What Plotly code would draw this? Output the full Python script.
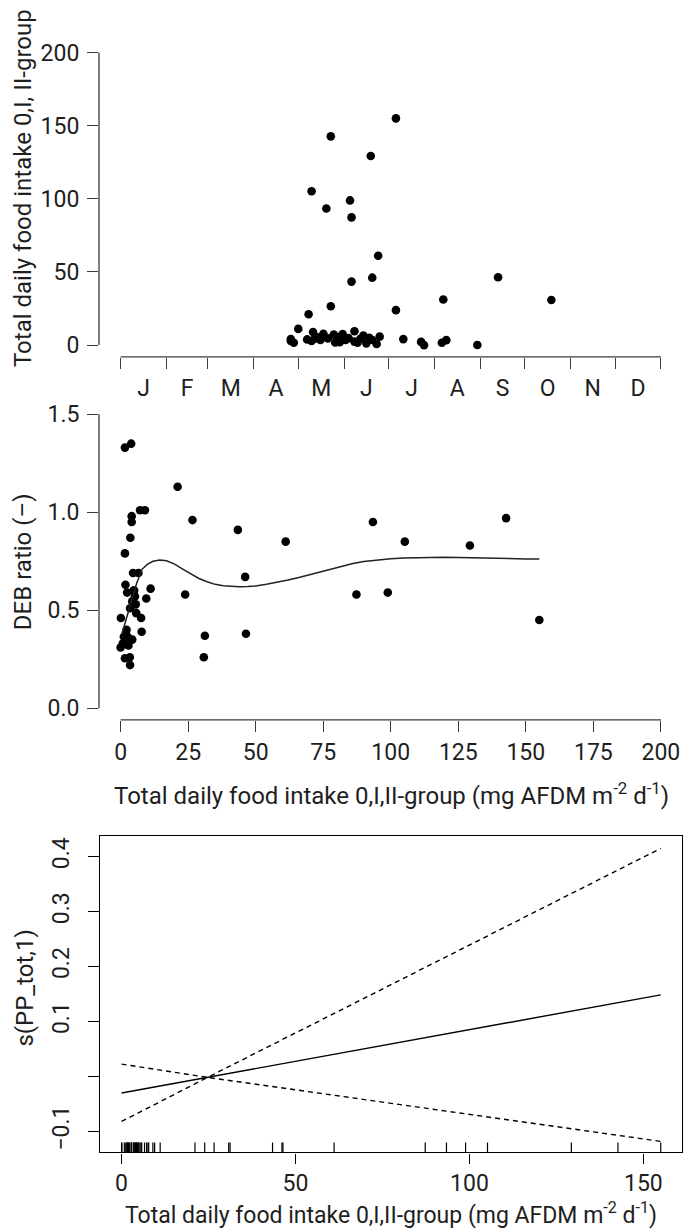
import plotly.graph_objects as go

W, H = 685, 1229
FONT = "Roboto"
INK = "#1e1e1e"
AXIS = "#3a3a3a"

# ---- data -------------------------------------------------------------
# sampling day (day of year), total daily food intake 0,I,II-group
# (mg AFDM m-2 d-1) and DEB ratio (-) for each sample
sample_day = [186, 142, 169, 129, 155, 139, 156, 174, 156, 170, 255, 218,
              291, 142, 186, 127,
              115, 115, 120, 126, 129, 130, 135, 137, 144, 145, 150, 158,
              158, 164, 168, 173, 175, 191, 203, 205, 217, 220, 241, 131,
              133, 140, 147, 152, 154, 160, 162, 166, 170, 117, 148]
food_intake = [155.0, 142.7, 129.3, 105.2, 98.9, 93.4, 87.3, 61.1, 43.4,
               46.1, 46.4, 31.2, 30.8, 26.6, 23.9, 21.1,
               2.9, 4.1, 11.1, 3.9, 2.8, 9.0, 3.6, 7.8, 7.2, 1.8, 7.6, 9.5,
               2.4, 6.6, 5.0, 0.8, 5.8, 4.1, 2.2, 0.0, 1.6, 3.4, 0.1, 4.3,
               5.3, 4.6, 5.6, 3.5, 4.8, 1.6, 4.3, 1.2, 3.5, 1.6, 2.0]
deb_ratio = [0.45, 0.97, 0.83, 0.85, 0.59, 0.95, 0.58, 0.85, 0.91, 0.67,
             0.38, 0.37, 0.26, 0.96, 0.58, 1.13,
             0.32, 0.95, 0.61, 1.35, 0.36, 1.01, 0.87, 0.39, 1.01, 0.63,
             0.46, 0.56, 0.59, 0.69, 0.60, 0.33, 0.485, 0.98, 0.40, 0.31,
             1.33, 0.26, 0.46, 0.545, 0.57, 0.69, 0.53, 0.51, 0.60, 0.79,
             0.35, 0.365, 0.22, 0.255, 0.38]

# smoother of DEB ratio against food intake
smooth_x = [0.5, 2, 4, 6, 8, 10, 12, 14.5, 17, 20, 23, 26, 29, 32, 35, 38,
            41, 44, 47, 50, 54, 58, 62, 66, 70, 74, 78, 82, 86, 90, 95, 100,
            105, 110, 115, 120, 125, 130, 135, 140, 145, 150, 155]
smooth_y = [0.38, 0.45, 0.55, 0.64, 0.71, 0.735, 0.75, 0.756, 0.752, 0.735,
            0.71, 0.685, 0.662, 0.645, 0.632, 0.625, 0.621, 0.620, 0.621,
            0.624, 0.632, 0.642, 0.654, 0.667, 0.682, 0.697, 0.712, 0.726,
            0.738, 0.748, 0.757, 0.763, 0.767, 0.769, 0.770, 0.770, 0.769,
            0.767, 0.765, 0.764, 0.763, 0.762, 0.762]

# GAM term s(PP_tot,1) with +/- 2 SE band
gam_x = [0, 24.7, 155]
gam_fit = [-0.030, -0.0016, 0.1485]
gam_upper = [0.0225, -0.0016, 0.415]
gam_lower = [-0.0818, -0.0016, -0.118]

# axis ticks and labels
month_letters = ["J", "F", "M", "A", "M", "J", "J", "A", "S", "O", "N", "D"]
month_start = [0, 31, 59, 90, 120, 151, 181, 212, 243, 273, 304, 334, 365]
intake_ticks = [0, 50, 100, 150, 200]
ratio_ticks = [0.0, 0.5, 1.0, 1.5]
intake_ticks2 = [0, 25, 50, 75, 100, 125, 150, 175, 200]
gam_xticks = [0, 50, 100, 150]
gam_yticks = [-0.1, 0.0, 0.1, 0.2, 0.3, 0.4]
gam_ylabelled = [-0.1, 0.1, 0.2, 0.3, 0.4]
gam_yticktext = ["\u22120.1", "0.1", "0.2", "0.3", "0.4"]

x_title = "Total daily food intake 0,I,II-group (mg AFDM m<sup>-2</sup> d<sup>-1</sup>)"


def pad(lo, hi, f=0.04):
    d = (hi - lo) * f
    return [lo - d, hi + d]


month_mid = [(a + b) / 2 for a, b in zip(month_start[:-1], month_start[1:])]

# panel layout in page pixels (top, bottom)
left_px, right_px = 99, 682.5


def ydom(top, bottom):
    return [(H - bottom) / H, (H - top) / H]


xdom = [left_px / W, right_px / W]

fig = go.Figure()

# top: food intake by sampling date
fig.add_trace(go.Scatter(x=sample_day, y=food_intake, mode="markers",
                         marker=dict(size=8.6, color="black"),
                         xaxis="x", yaxis="y", showlegend=False))

# middle: DEB ratio vs food intake
fig.add_trace(go.Scatter(x=food_intake, y=deb_ratio, mode="markers",
                         marker=dict(size=8.6, color="black"),
                         xaxis="x2", yaxis="y2", showlegend=False))
fig.add_trace(go.Scatter(x=smooth_x, y=smooth_y, mode="lines",
                         line=dict(color="#222", width=1.5),
                         xaxis="x2", yaxis="y2", showlegend=False))

# bottom: GAM partial effect
for ys, dash in [(gam_upper, "5px,4px"), (gam_lower, "5px,4px"), (gam_fit, "solid")]:
    fig.add_trace(go.Scatter(x=gam_x, y=ys, mode="lines",
                             line=dict(color="black", width=1.4, dash=dash),
                             xaxis="x3", yaxis="y3", showlegend=False))

gam_yrange = [-0.1382, 0.4382]
rug_len = 0.0182
rug_x, rug_y = [], []
for v in food_intake:
    rug_x += [v, v, None]
    rug_y += [gam_yrange[0], gam_yrange[0] + rug_len, None]
fig.add_trace(go.Scatter(x=rug_x, y=rug_y, mode="lines",
                         line=dict(color="black", width=1.2),
                         xaxis="x3", yaxis="y3", showlegend=False))

tickfont = dict(family=FONT, size=23, color=INK)
common = dict(showgrid=False, zeroline=False, showline=False,
              ticks="outside", ticklen=11, tickwidth=1.3, tickcolor=AXIS,
              tickfont=tickfont)

fig.update_layout(
    width=W, height=H, autosize=False,
    margin=dict(l=0, r=0, t=0, b=0),
    paper_bgcolor="white", plot_bgcolor="white",
    xaxis=dict(domain=xdom, anchor="y", range=pad(0, 365),
               tickmode="array", tickvals=month_mid, ticktext=month_letters,
               minor=dict(tickmode="array", tickvals=month_start,
                          ticks="outside", ticklen=11, tickwidth=1.3,
                          tickcolor=AXIS, showgrid=False),
               **{**common, "tickcolor": "rgba(0,0,0,0)"}),
    yaxis=dict(domain=ydom(39.9, 356.7), anchor="x", range=pad(0, 200),
               tickmode="array", tickvals=intake_ticks,
               ticklabelstandoff=3, **common),
    xaxis2=dict(domain=xdom, anchor="y2", range=pad(0, 200),
                tickmode="array", tickvals=intake_ticks2, **common),
    yaxis2=dict(domain=ydom(402.5, 720.7), anchor="x2", range=pad(0, 1.5),
                tickmode="array", tickvals=ratio_ticks, tickformat=".1f",
                ticklabelstandoff=3, **common),
    xaxis3=dict(domain=[100 / W, 682.3 / W], anchor="y3", range=pad(0, 155),
                tickmode="array", tickvals=gam_xticks,
                **{**common, "showline": True, "mirror": True,
                   "linecolor": "black", "linewidth": 1.3,
                   "tickcolor": "black", "ticklen": 10}),
    yaxis3=dict(domain=ydom(836.7, 1154.3), anchor="x3", range=gam_yrange,
                tickmode="array", tickvals=gam_ylabelled, ticktext=gam_yticktext,
                tickangle=-90, ticklabelstandoff=10,
                minor=dict(tickmode="array", tickvals=gam_yticks,
                           ticks="outside", ticklen=11, tickwidth=1.3,
                           tickcolor="black", showgrid=False),
                **{**common, "showline": True, "mirror": True,
                   "linecolor": "black", "linewidth": 1.3,
                   "tickcolor": "black"}),
)

# R-style axis lines spanning only the labelled range
line_style = dict(color=AXIS, width=1.3)
fig.add_shape(type="line", xref="x domain", yref="y", x0=0, x1=0,
              y0=intake_ticks[0], y1=intake_ticks[-1], line=line_style)
fig.add_shape(type="line", xref="x", yref="y domain", x0=month_start[0],
              x1=month_start[-1], y0=0, y1=0, line=line_style)
fig.add_shape(type="line", xref="x2 domain", yref="y2", x0=0, x1=0,
              y0=ratio_ticks[0], y1=ratio_ticks[-1], line=line_style)
fig.add_shape(type="line", xref="x2", yref="y2 domain", x0=intake_ticks2[0],
              x1=intake_ticks2[-1], y0=0, y1=0, line=line_style)


def title(text, x_px, y_px, angle=0, size=24):
    fig.add_annotation(text=text, xref="paper", yref="paper",
                       x=x_px / W, y=(H - y_px) / H, showarrow=False,
                       textangle=angle, xanchor="center", yanchor="middle",
                       font=dict(family=FONT, size=size, color=INK))


title("Total daily food intake 0,I, II-group", 23, 187.5, -90)
title("DEB ratio (\u2013)", 23, 562.5, -90)
title(x_title, 391.5, 795)
title("s(PP_tot,1)", 25, 990, -90)
title(x_title, 391, 1215, size=23)

fig.write_html("out.html")
